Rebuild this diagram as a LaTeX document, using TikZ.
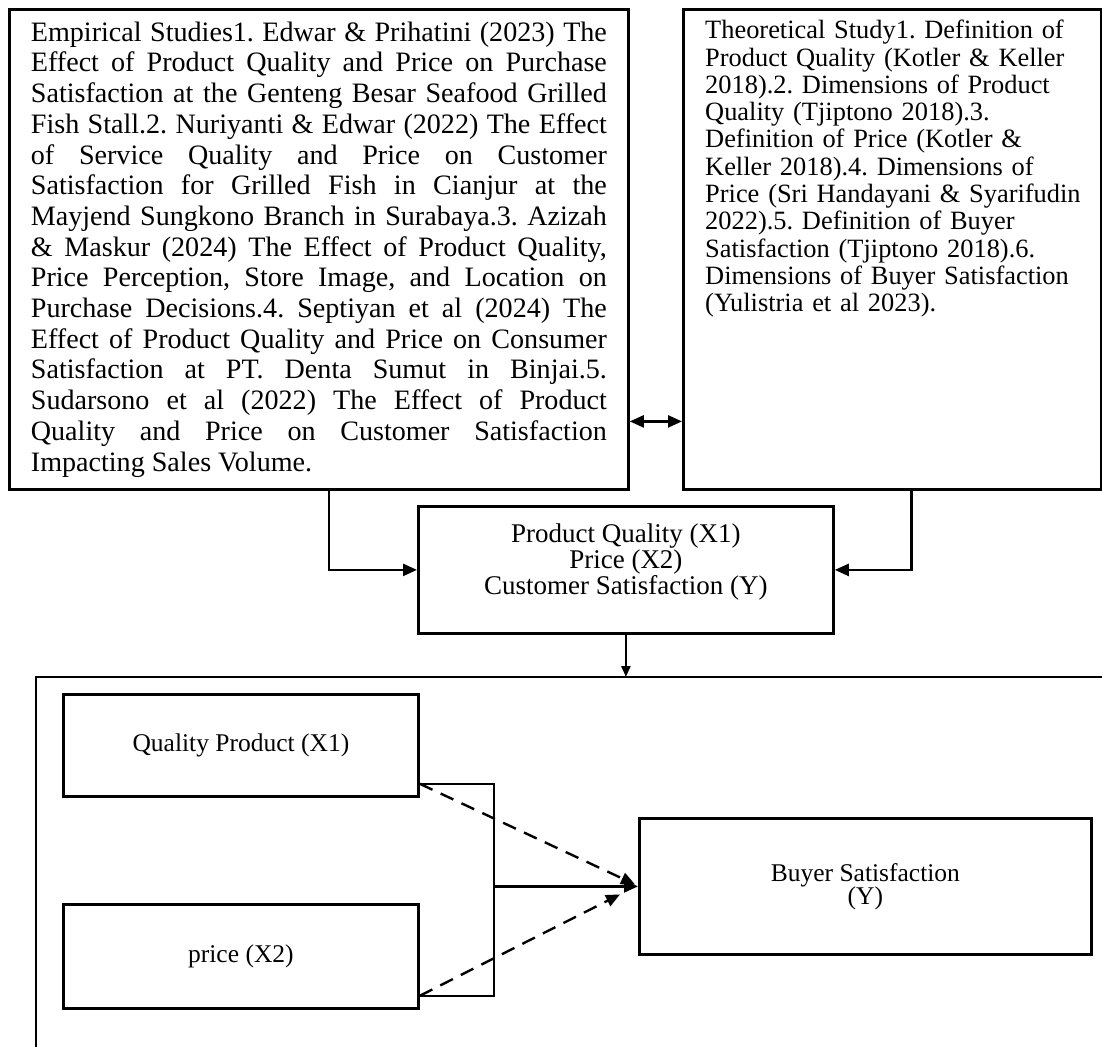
\documentclass[tikz,border=0pt]{standalone}
\usepackage{fontspec}
\setmainfont{Liberation Serif}
\usetikzlibrary{arrows.meta,calc,positioning}

\begin{document}
\frenchspacing
\begin{tikzpicture}[x=1pt, y=-1pt, >={Triangle[length=14pt,width=12pt]},
		box/.style={draw, line width=2.8pt, inner sep=0pt, anchor=north west},
		link/.style={line width=2.4pt, ->},
		hint/.style={link, dash pattern=on 14pt off 9pt},
		frame/.style={line width=2.6pt},
		bigtext/.style={font=\fontsize{28.1pt}{30.7pt}\selectfont},
		listtext/.style={font=\fontsize{26.4pt}{27.3pt}\selectfont},
		midtext/.style={font={\fontsize{27pt}{26pt}\selectfont\lineskiplimit=-20pt}},
		smalltext/.style={font={\fontsize{25.5pt}{23pt}\selectfont\lineskiplimit=-20pt}}]
		
		% --- page ---
		\clip (0,0) rectangle (1102,1046);
		
		% --- top: empirical and theoretical review ---
		\node[box, bigtext, minimum width=619pt, minimum height=480pt, text width=576pt, align=justify] (empirical) at (8,8)
		{\hyphenpenalty=10000
			Empirical Studies1. Edwar \& Prihatini (2023) The\linebreak
			Effect of Product Quality and Price on Purchase\linebreak
			Satisfaction at the Genteng Besar Seafood Grilled\linebreak
			Fish Stall.2. Nuriyanti \& Edwar (2022) The Effect\linebreak
			of Service Quality and Price on Customer\linebreak
			Satisfaction for Grilled Fish in Cianjur at the\linebreak
			Mayjend Sungkono Branch in Surabaya.3. Azizah\linebreak
			\& Maskur (2024) The Effect of Product Quality,\linebreak
			Price Perception, Store Image, and Location on\linebreak
			Purchase Decisions.4. Septiyan et al (2024) The\linebreak
			Effect of Product Quality and Price on Consumer\linebreak
			Satisfaction at PT. Denta Sumut in Binjai.5.\linebreak
			Sudarsono et al (2022) The Effect of Product\linebreak
			Quality and Price on Customer Satisfaction\linebreak
			Impacting Sales Volume.};
		
		\node[box, minimum width=418pt, minimum height=480pt] (theory) at (682,8) {};
		\node[listtext, anchor=north west, inner sep=0pt, text width=390pt, align=left] (theorylist) at (705,20)
		{Theoretical Study1. Definition of\\
			Product Quality (Kotler \& Keller\\
			2018).2. Dimensions of Product\\
			Quality (Tjiptono 2018).3.\\
			Definition of Price (Kotler \&\\
			Keller 2018).4. Dimensions of\\
			Price (Sri Handayani \& Syarifudin\\
			2022).5. Definition of Buyer\\
			Satisfaction (Tjiptono 2018).6.\\
			Dimensions of Buyer Satisfaction\\
			(Yulistria et al 2023).};
		
		\draw[line width=2.4pt, <->] ([yshift=-172pt]empirical.east) -- ([yshift=-172pt]theory.west);
		
		% --- middle: the research variables ---
		\node[box, minimum width=415pt, minimum height=127pt] (concepts) at (417,505) {};
		\node[midtext, align=center, inner sep=0pt] (conceptlist) at ([yshift=8pt]concepts.center)
		{Product Quality (X1)\\Price (X2)\\Customer Satisfaction (Y)};
		
		\draw[link] ([xshift=10pt]empirical.south) |- (concepts.west);
		\draw[link] ([xshift=19pt]theory.south) |- (concepts.east);
		
		% --- frame of the research model (open to the right and below) ---
		\coordinate (frametop) at (concepts.south |- 0,677);
		\draw[frame] (36,1080) |- (1130,677);
		\draw[line width=2.4pt, -{Triangle[length=11pt,width=9pt]}] (concepts.south) -- (frametop);
		
		% --- model: X1, X2 -> Y ---
		\node[box, smalltext, minimum width=355pt, minimum height=102pt] (quality) at (62,693) {Quality Product (X1)};
		\node[box, smalltext, minimum width=355pt, minimum height=104pt] (price) at (62,903) {price (X2)};
		\node[box, smalltext, minimum width=452pt, minimum height=136pt, align=center] (buyer) at (638,817) {Buyer Satisfaction\\(Y)};
		
		\coordinate (qout) at ([yshift=14pt]quality.south east);
		\coordinate (pout) at ([yshift=14pt]price.south east);
		\coordinate (join) at (buyer.west -| 494,0);
		
		\draw[line width=2.4pt] (qout) -| (join) |- (pout);
		\draw[link] (join) -- (buyer.west);
		\draw[hint] (qout) -- ([xshift=-3pt,yshift=2pt]buyer.west);
		\draw[hint] (pout) -- ([xshift=-18pt,yshift=-8pt]buyer.west);
		
	\end{tikzpicture}
\end{document}
